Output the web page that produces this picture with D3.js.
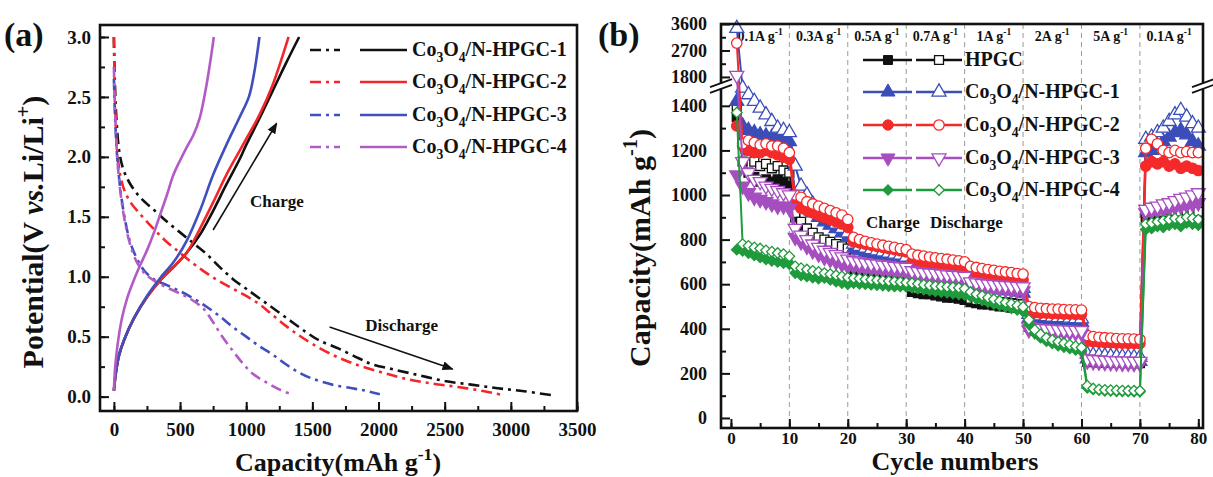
<!DOCTYPE html>
<html>
<head>
<meta charset="utf-8">
<script src="https://cdn.jsdelivr.net/npm/d3@7"></script>
<style>
body { margin: 0; background: #fff; }
svg text { font-family: "Liberation Serif", "Times New Roman", serif; font-weight: bold; fill: #111; }
</style>
</head>
<body>
<svg id="chart" width="1213" height="477"></svg>
<script>
/***Panel (a) data: [capacity mAh/g, potential V]***/
var dis1 = [[0,3.0],[8,2.6],[20,2.3],[40,2.05],[70,1.9],[120,1.78],[200,1.66],[300,1.56],[400,1.46],[500,1.37],[600,1.28],[700,1.19],[800,1.08],[900,0.98],[1000,0.9],[1150,0.78],[1300,0.66],[1450,0.54],[1550,0.47],[1700,0.4],[1850,0.32],[1950,0.27],[2100,0.23],[2300,0.18],[2500,0.13],[2700,0.1],[2900,0.07],[3100,0.045],[3320,0.01]];
var dis2 = [[0,3.0],[8,2.5],[20,2.15],[40,1.9],[70,1.75],[120,1.63],[200,1.52],[300,1.4],[400,1.29],[500,1.2],[600,1.11],[700,1.03],[800,0.96],[900,0.9],[1000,0.84],[1100,0.77],[1200,0.68],[1300,0.59],[1400,0.51],[1500,0.44],[1650,0.35],[1800,0.28],[2000,0.21],[2200,0.15],[2400,0.11],[2600,0.08],[2800,0.045],[2950,0.01]];
var dis3 = [[0,2.65],[10,2.3],[25,2.0],[50,1.72],[80,1.5],[120,1.3],[170,1.16],[230,1.05],[300,0.98],[400,0.93],[500,0.88],[600,0.82],[700,0.75],[800,0.67],[900,0.58],[1000,0.5],[1100,0.42],[1200,0.35],[1300,0.27],[1400,0.2],[1500,0.15],[1650,0.1],[1800,0.07],[1900,0.05],[2010,0.02]];
var dis4 = [[0,2.75],[10,2.35],[25,2.0],[50,1.7],[80,1.48],[120,1.28],[170,1.13],[230,1.03],[300,0.97],[400,0.91],[500,0.86],[600,0.8],[680,0.73],[750,0.62],[820,0.5],[900,0.38],[980,0.27],[1050,0.19],[1150,0.12],[1250,0.06],[1340,0.02]];
var chg1 = [[0,0.05],[15,0.2],[40,0.35],[80,0.48],[150,0.65],[250,0.83],[350,0.97],[450,1.08],[550,1.2],[650,1.35],[750,1.55],[850,1.77],[950,1.98],[1000,2.1],[1100,2.32],[1200,2.55],[1300,2.78],[1400,3.0]];
var chg2 = [[0,0.05],[15,0.2],[40,0.35],[80,0.48],[150,0.65],[250,0.83],[350,0.97],[450,1.08],[550,1.2],[650,1.4],[750,1.62],[850,1.85],[950,2.05],[1000,2.15],[1100,2.35],[1200,2.6],[1320,3.0]];
var chg3 = [[0,0.05],[15,0.2],[40,0.35],[80,0.48],[150,0.65],[250,0.84],[350,0.99],[450,1.12],[550,1.3],[650,1.55],[750,1.85],[850,2.1],[950,2.33],[1020,2.5],[1060,2.7],[1100,3.0]];
var chg4 = [[0,0.05],[10,0.25],[30,0.45],[60,0.65],[100,0.82],[150,0.97],[200,1.1],[250,1.22],[300,1.36],[350,1.52],[400,1.68],[450,1.85],[500,1.97],[550,2.08],[600,2.18],[650,2.33],[700,2.6],[740,2.88],[755,3.0]];
var capTicks = [0, 500, 1000, 1500, 2000, 2500, 3000, 3500];
var potTicks = [0.0, 0.5, 1.0, 1.5, 2.0, 2.5, 3.0];

/***Panel (b) data: capacity per cycle (filled = charge, open = discharge)***/
var cycles = [1,2,3,4,5,6,7,8,9,10,11,12,13,14,15,16,17,18,19,20,21,22,23,24,25,26,27,28,29,30,31,32,33,34,35,36,37,38,39,40,41,42,43,44,45,46,47,48,49,50,51,52,53,54,55,56,57,58,59,60,61,62,63,64,65,66,67,68,69,70,71,72,73,74,75,76,77,78,79,80];
var hpgcChg = [1350,1150,1100,1080,1060,1070,1060,1070,1060,1040, 900,840,800,780,765,750,735,725,715,705, 665,660,655,650,645,640,635,630,625,620, 565,560,555,555,550,545,540,540,535,530, 520,515,510,510,505,500,500,495,495,490, 410,405,404,402,400,400,400,398,398,398, 252,250,249,248,248,247,247,246,246,246, 900,905,910,905,915,910,905,910,900,905];
var hpgcDis = [1400,1230,1200,1150,1130,1140,1120,1130,1110,1100, 920,880,850,830,810,800,790,780,770,760, 690,685,680,675,670,668,665,662,660,655, 585,580,578,575,572,570,568,565,562,560, 535,530,528,525,522,520,518,515,512,510, 425,420,418,416,415,414,414,412,412,412, 262,260,258,257,256,256,255,255,254,254, 920,925,930,925,935,930,925,930,920,925];
var s1Chg = [1420,1310,1290,1280,1270,1265,1260,1255,1250,1240, 1000,960,940,920,900,880,865,850,830,810, 760,750,740,735,730,725,720,715,710,700, 660,655,650,648,645,640,638,635,630,625, 595,590,585,582,580,575,572,570,565,560, 445,440,440,438,436,435,435,432,432,430, 265,262,260,258,258,256,255,255,254,254, 1190,1200,1220,1240,1260,1280,1290,1270,1240,1220];
var s1Dis = [3450,1480,1450,1420,1390,1360,1330,1300,1290,1280, 1130,1040,1000,960,930,910,890,870,850,830, 780,770,762,755,750,745,740,735,730,722, 690,685,680,676,672,668,665,662,658,655, 620,615,610,606,602,598,595,590,586,582, 465,460,458,455,452,450,450,448,446,445, 285,282,280,278,276,275,274,273,272,272, 1250,1260,1280,1300,1330,1360,1380,1350,1320,1300];
var s2Chg = [1310,1220,1200,1190,1190,1200,1190,1180,1170,1160, 960,940,930,920,910,900,890,880,870,855, 790,785,780,775,770,765,760,755,750,745, 700,696,692,688,685,682,678,675,672,668, 645,642,640,636,634,632,630,628,625,620, 475,472,470,470,468,468,466,466,465,465, 345,342,340,338,338,336,336,335,335,334, 1130,1150,1140,1150,1130,1140,1120,1130,1120,1110];
var s2Dis = [2950,1230,1245,1235,1225,1230,1220,1220,1210,1190, 1000,990,970,960,950,940,930,920,910,890, 810,800,792,786,780,775,770,765,760,755, 735,730,726,722,718,715,712,708,705,700, 680,675,670,666,662,658,655,652,648,645, 500,495,492,490,488,488,486,485,485,484, 370,365,362,360,358,356,355,355,354,352, 1210,1250,1230,1200,1190,1200,1190,1195,1190,1190];
var s3Chg = [1090,1040,1010,990,980,970,960,950,950,940, 810,790,770,750,735,720,710,700,690,680, 680,675,670,668,665,662,660,655,652,650, 640,636,632,630,628,625,622,620,618,615, 590,588,585,582,580,578,576,574,572,570, 395,392,390,388,386,385,384,383,382,380, 255,252,250,248,247,246,245,245,244,244, 920,925,930,935,940,945,950,955,960,965];
var s3Dis = [1850,1150,1100,1070,1060,1040,1030,1020,1010,1000, 850,820,800,780,765,752,742,732,722,712, 705,700,696,692,690,686,684,680,678,675, 660,656,652,650,648,645,642,640,638,635, 610,606,603,600,598,596,594,592,590,588, 410,405,402,400,398,396,395,394,393,392, 265,262,260,258,257,256,255,255,254,254, 935,945,950,960,965,975,985,990,1000,1010];
var s4Chg = [755,750,740,730,720,712,705,700,695,690, 650,640,635,630,625,628,620,612,605,600, 605,602,600,598,596,594,592,590,590,588, 585,580,576,572,568,565,562,558,555,552, 545,535,528,520,512,505,498,492,485,478, 420,380,360,345,335,325,318,312,306,300, 135,128,125,122,122,120,120,120,118,118, 845,850,860,855,865,870,860,875,870,865];
var s4Dis = [1370,780,772,765,760,752,746,740,735,725, 680,672,666,660,655,650,645,640,635,630, 628,625,622,620,618,616,614,612,610,608, 605,602,598,595,592,590,588,586,584,580, 565,555,548,540,532,525,518,512,505,498, 440,395,375,360,350,342,335,328,322,316, 145,132,128,126,125,124,123,122,122,122, 870,875,880,885,890,895,890,900,895,890];
var cycleTicks = [0, 10, 20, 30, 40, 50, 60, 70, 80];
var capLowTicks = [0, 200, 400, 600, 800, 1000, 1200, 1400];
var capHighTicks = [1800, 2700, 3600];
var rateStarts = [0, 10, 20, 30, 40, 50, 60, 70];
var rateText = ["0.1A g", "0.3A g", "0.5A g", "0.7A g", "1A g", "2A g", "5A g", "0.1A g"];

var svg = d3.select("#chart");

// text with sub / superscript pieces: [text, "sub"|"sup"|null, italic]
function rich(sel, parts, size) {
  var off = 0;
  parts.forEach(function(p) {
    var target = p[1] === "sub" ? size * 0.3 : (p[1] === "sup" ? -size * 0.42 : 0);
    sel.append("tspan")
       .attr("dy", target - off)
       .style("font-size", (p[1] ? size * 0.68 : size) + "px")
       .style("font-style", p[2] ? "italic" : null)
       .text(p[0]);
    off = target;
  });
  return sel;
}
function coName(n) { return [["Co"], ["3", "sub"], ["O"], ["4", "sub"], ["/N-HPGC-" + n]]; }

/*************** Panel (a) ***************/
var ax = {left: 100, right: 577, top: 25, bottom: 411};
var xA = d3.scaleLinear().domain([-105, 3500]).range([ax.left, ax.right]);
var yA = d3.scaleLinear().domain([-0.12, 3.1]).range([ax.bottom, ax.top]);

var gA = svg.append("g");
var lineA = d3.line().x(function(d){ return xA(d[0]); }).y(function(d){ return yA(d[1]); }).curve(d3.curveCatmullRom);

var aColors = ["#111111", "#f5262a", "#3f4fbd", "#b35bc5"];
var aDis = [dis1, dis2, dis3, dis4];
var aChg = [chg1, chg2, chg3, chg4];

aDis.forEach(function(d, i) {
  gA.append("path").datum(d).attr("d", lineA)
    .attr("fill", "none").attr("stroke", aColors[i]).attr("stroke-width", 2.6)
    .attr("stroke-dasharray", "11,5,3,5");
});
aChg.forEach(function(d, i) {
  gA.append("path").datum(d).attr("d", lineA)
    .attr("fill", "none").attr("stroke", aColors[i]).attr("stroke-width", 2.6);
});

// axes
gA.append("g").attr("transform", "translate(0," + ax.bottom + ")")
  .call(d3.axisBottom(xA).tickValues(d3.range(0, 3501, 250)).tickSize(-5).tickFormat(""));
gA.append("g").attr("transform", "translate(0," + ax.bottom + ")")
  .call(d3.axisBottom(xA).tickValues(capTicks).tickSize(-9).tickPadding(12).tickFormat(d3.format("d")))
  .selectAll("text").style("font-size", "19px");
gA.append("g").attr("transform", "translate(" + ax.left + ",0)")
  .call(d3.axisLeft(yA).tickValues(d3.range(0, 3.01, 0.25)).tickSize(-5).tickFormat(""));
gA.append("g").attr("transform", "translate(" + ax.left + ",0)")
  .call(d3.axisLeft(yA).tickValues(potTicks).tickSize(-9).tickPadding(9).tickFormat(d3.format(".1f")))
  .selectAll("text").style("font-size", "19px");
gA.selectAll(".domain").remove();
gA.selectAll(".tick line").attr("stroke", "#111").attr("stroke-width", 2);
gA.append("rect").attr("x", ax.left).attr("y", ax.top)
  .attr("width", ax.right - ax.left).attr("height", ax.bottom - ax.top)
  .attr("fill", "none").attr("stroke", "#111").attr("stroke-width", 2.6);

// arrows and notes
var defs = svg.append("defs");
defs.append("marker").attr("id", "arr").attr("viewBox", "0 0 10 10")
  .attr("refX", 9).attr("refY", 5).attr("markerWidth", 7).attr("markerHeight", 7)
  .attr("orient", "auto")
  .append("path").attr("d", "M0,1L10,5L0,9z").attr("fill", "#111");
gA.append("line").attr("x1", xA(750)).attr("y1", yA(1.39)).attr("x2", xA(1230)).attr("y2", yA(2.28))
  .attr("stroke", "#111").attr("stroke-width", 1.6).attr("marker-end", "url(#arr)");
gA.append("line").attr("x1", xA(1630)).attr("y1", yA(0.58)).attr("x2", xA(2560)).attr("y2", yA(0.23))
  .attr("stroke", "#111").attr("stroke-width", 1.6).attr("marker-end", "url(#arr)");
gA.append("text").attr("x", xA(1028)).attr("y", yA(1.58)).style("font-size", "17px").text("Charge");
gA.append("text").attr("x", xA(1900)).attr("y", yA(0.55)).style("font-size", "17px").text("Discharge");

// legend (a)
var legA = gA.append("g");
[50, 82, 115, 147].forEach(function(yy, i) {
  legA.append("line").attr("x1", 310).attr("x2", 340).attr("y1", yy).attr("y2", yy)
    .attr("stroke", aColors[i]).attr("stroke-width", 2.6).attr("stroke-dasharray", "11,5,3,5");
  legA.append("line").attr("x1", 360).attr("x2", 407).attr("y1", yy).attr("y2", yy)
    .attr("stroke", aColors[i]).attr("stroke-width", 2.6);
  rich(legA.append("text").attr("x", 412).attr("y", yy + 6), coName(i + 1), 20);
});

// titles (a)
svg.append("text").attr("x", 4).attr("y", 46).style("font-size", "34px").text("(a)");
rich(svg.append("text").attr("text-anchor", "middle")
  .attr("transform", "translate(" + 43 + "," + 232 + ") rotate(-90)"),
  [["Potential(V "], ["vs.", null, true], ["Li/Li"], ["+", "sup"], [")"]], 30);
rich(svg.append("text").attr("text-anchor", "middle").attr("x", 338).attr("y", 471),
  [["Capacity(mAh g"], ["-1", "sup"], [")"]], 26);

/*************** Panel (b) ***************/
var bx = {left: 721, right: 1203, top: 24, bottom: 428};
var xB = d3.scaleLinear().domain([-1.7, 80.8]).range([bx.left, bx.right]);
var yB = d3.scaleLinear().domain([-45, 1480, 1560, 3600]).range([bx.bottom, 88, 84, bx.top]);
var gB = svg.append("g");

// dashed separators
gB.selectAll("line.sep").data(rateStarts.slice(1)).enter().append("line")
  .attr("class", "sep")
  .attr("x1", function(d){ return xB(d); }).attr("x2", function(d){ return xB(d); })
  .attr("y1", bx.top).attr("y2", bx.bottom)
  .attr("stroke", "#9a9a9a").attr("stroke-width", 1).attr("stroke-dasharray", "5,4");

// rate labels
rateStarts.forEach(function(s, i) {
  rich(gB.append("text").attr("text-anchor", "middle").attr("x", xB(s + 5)).attr("y", 41),
    [[rateText[i]], ["-1", "sup"]], 14);
});

var series = [
  {chg: hpgcChg, dis: hpgcDis, color: "#111111", sym: d3.symbolSquare, size: 80, rot: 0},
  {chg: s1Chg, dis: s1Dis, color: "#3a4db8", sym: d3.symbolTriangle, size: 85, rot: 0},
  {chg: s2Chg, dis: s2Dis, color: "#f42a2a", sym: d3.symbolCircle, size: 85, rot: 0},
  {chg: s3Chg, dis: s3Dis, color: "#a64ebf", sym: d3.symbolTriangle, size: 85, rot: 180},
  {chg: s4Chg, dis: s4Dis, color: "#1f9a3c", sym: d3.symbolSquare, size: 55, rot: 45}
];
var lineB = d3.line().x(function(d, i){ return xB(cycles[i]); }).y(function(d){ return yB(d); });

series.forEach(function(s) {
  var symbol = d3.symbol().type(s.sym).size(s.size);
  [["chg", s.color], ["dis", "#fff"]].forEach(function(k) {
    var vals = s[k[0]];
    gB.append("path").datum(vals).attr("d", lineB)
      .attr("fill", "none").attr("stroke", s.color).attr("stroke-width", 2);
    gB.selectAll(null).data(vals).enter().append("path")
      .attr("d", symbol)
      .attr("transform", function(d, i){ return "translate(" + xB(cycles[i]) + "," + yB(d) + ") rotate(" + s.rot + ")"; })
      .attr("fill", k[1]).attr("stroke", s.color).attr("stroke-width", 1.3);
  });
});

// axes (b)
gB.append("g").attr("transform", "translate(0," + bx.bottom + ")")
  .call(d3.axisBottom(xB).tickValues(d3.range(0, 81, 5)).tickSize(-5).tickFormat(""));
gB.append("g").attr("transform", "translate(0," + bx.bottom + ")")
  .call(d3.axisBottom(xB).tickValues(cycleTicks).tickSize(-9).tickPadding(4).tickFormat(d3.format("d")))
  .selectAll("text").style("font-size", "17px");
gB.append("g").attr("transform", "translate(" + bx.left + ",0)")
  .call(d3.axisLeft(yB).tickValues(d3.range(100, 1401, 200).concat([2250, 3150])).tickSize(-5).tickFormat(""));
gB.append("g").attr("transform", "translate(" + bx.left + ",0)")
  .call(d3.axisLeft(yB).tickValues(capLowTicks.concat(capHighTicks)).tickSize(-9).tickPadding(14).tickFormat(d3.format("d")))
  .selectAll("text").style("font-size", "18px");
gB.selectAll(".domain").remove();
gB.selectAll(".tick line").attr("stroke", "#111").attr("stroke-width", 2);
gB.append("rect").attr("x", bx.left).attr("y", bx.top)
  .attr("width", bx.right - bx.left).attr("height", bx.bottom - bx.top)
  .attr("fill", "none").attr("stroke", "#111").attr("stroke-width", 2.6);

// axis break marks
[bx.left, bx.right].forEach(function(xx) {
  var yb = (yB(1480) + yB(1560)) / 2;
  gB.append("rect").attr("x", xx - 3).attr("y", yb - 2.5).attr("width", 6).attr("height", 5).attr("fill", "#fff");
  [-2.8, 2.8].forEach(function(o) {
    gB.append("line").attr("x1", xx - 11).attr("y1", yb + o + 4).attr("x2", xx + 11).attr("y2", yb + o - 4)
      .attr("stroke", "#111").attr("stroke-width", 1.8);
  });
});

// legend (b)
var legB = gB.append("g");
var legNames = [[["HPGC"]], coName(1), coName(2), coName(3), coName(4)];
[60, 92, 125, 158, 190].forEach(function(yy, i) {
  var s = series[i];
  var symbol = d3.symbol().type(s.sym).size(s.size);
  legB.append("line").attr("x1", 863).attr("x2", 912).attr("y1", yy).attr("y2", yy).attr("stroke", s.color).attr("stroke-width", 2.4);
  legB.append("line").attr("x1", 916).attr("x2", 962).attr("y1", yy).attr("y2", yy).attr("stroke", s.color).attr("stroke-width", 2.4);
  legB.append("path").attr("d", symbol).attr("transform", "translate(888," + yy + ") rotate(" + s.rot + ")")
    .attr("fill", s.color).attr("stroke", s.color);
  legB.append("path").attr("d", symbol).attr("transform", "translate(939," + yy + ") rotate(" + s.rot + ")")
    .attr("fill", "#fff").attr("stroke", s.color).attr("stroke-width", 1.3);
  rich(legB.append("text").attr("x", 965).attr("y", yy + 6), legNames[i], 20);
});
gB.append("text").attr("x", 866).attr("y", 228).style("font-size", "17px").text("Charge");
gB.append("text").attr("x", 930).attr("y", 228).style("font-size", "17px").text("Discharge");

// titles (b)
svg.append("text").attr("x", 598).attr("y", 46).style("font-size", "34px").text("(b)");
rich(svg.append("text").attr("text-anchor", "middle")
  .attr("transform", "translate(" + 650 + "," + 248 + ") rotate(-90)"),
  [["Capacity(mAh g"], ["-1", "sup"], [")"]], 30);
svg.append("text").attr("text-anchor", "middle").attr("x", 955).attr("y", 470)
  .style("font-size", "26px").text("Cycle numbers");
</script>
</body>
</html>
